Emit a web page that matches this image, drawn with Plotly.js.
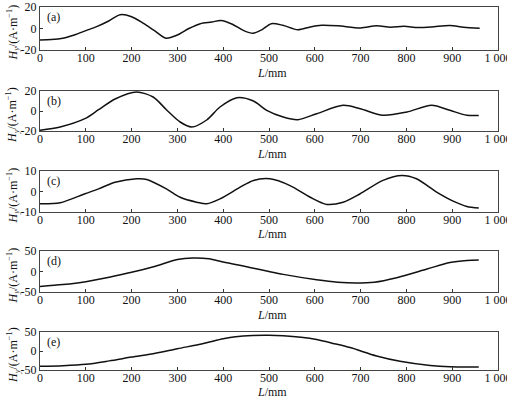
<!DOCTYPE html>
<html><head><meta charset="utf-8">
<script src="https://cdn.plot.ly/plotly-3.0.1.min.js"></script>
<style>html,body{margin:0;padding:0;background:#fff}#chart{width:507px;height:398px}</style>
</head><body><div id="chart"></div>
<script>
const xA = [0,25,50,75,100,125,150,175,200,225,250,275,300,325,350,375,395,420,445,465,485,505,530,563,590,615,650,700,735,765,795,825,855,895,925,960];
const yA = [-10.7,-10.3,-9,-6,-2,2,7,12.8,11,5,-2,-9,-6,0,4.5,6,7.5,4,-2,-4.5,-1,4.5,3,-1.2,1.5,3,2.5,0.5,2.5,1.2,2,1,1.5,2.8,1.2,0.3];
const xB = [0,44,98,128,164,211,247,276,306,331,364,393,430,466,495,531,563,604,662,699,749,801,855,895,932,958];
const yB = [-19.3,-16,-7.7,1.3,12,19,14,1.3,-11,-16,-9,4,13.3,10,0.7,-6,-8.7,-2.7,5.7,2.3,-4.3,-1,5.7,0.7,-4.3,-4.5];
const xC = [0,44,98,128,164,211,233,276,306,342,364,393,437,466,502,546,590,626,662,699,749,790,822,866,902,932,958];
const yC = [-6,-5.5,-1.1,1.3,4.5,6.2,5.9,1.3,-2.8,-5.2,-6,-3.6,2.1,5.4,6.2,2.9,-2.8,-6.3,-5.2,-1.1,5.4,7.8,6.2,-0.3,-4.7,-7.3,-8.1];
const xD = [0,50,100,151,200,252,300,333,369,400,458,500,531,604,650,690,730,779,845,895,932,958];
const yD = [-36.5,-32,-25,-14,-2,13,29,33,31,23,10,0,-7,-20,-26,-28,-26,-15,6,22,27,28];
const xE = [0,50,100,151,200,252,300,355,400,427,464,500,531,570,604,640,677,735,786,852,895,958];
const yE = [-40,-38.5,-35,-26,-16,-6,6,19,32,37.6,41,41.5,40,36,30,20,9,-13,-27,-38,-41.5,-42];
const xTicks = [0,100,200,300,400,500,600,700,800,900,1000];
const xTickText = ['0','100','200','300','400','500','600','700','800','900','1 000'];
const panelLabels = ['(a)','(b)','(c)','(d)','(e)'];
const yRanges = [[-20,20],[-20,20],[-10,10],[-50,50],[-50,50]];
const yTickVals = [[-20,0,20],[-20,0,20],[-10,0,10],[-50,0,50],[-50,0,50]];
const yTickText = [['-20','0','20'],['-20','0','20'],['-10','0','10'],['-50','0','50'],['-50','0','50']];

const W = 507, H = 398;
const panelPx = [[7,50],[91,131],[171,212],[251,292],[332,370]];
const xTitlePx = [73,154,234,315,392];
const series = [[xA,yA],[xB,yB],[xC,yC],[xD,yD],[xE,yE]];
const font = {family:'Liberation Serif, Times New Roman, serif', size:12, color:'#111'};

const data = [], annotations = [];
const layout = {width:W, height:H, margin:{l:0,r:0,t:0,b:0}, showlegend:false,
  paper_bgcolor:'#fff', plot_bgcolor:'#fff', font:font, annotations:annotations};

series.forEach((s,i)=>{
  const n = i===0 ? '' : String(i+1);
  data.push({x:s[0], y:s[1], xaxis:'x'+n, yaxis:'y'+n, mode:'lines', type:'scatter',
    line:{color:'#111', width:1.5, shape:'spline', smoothing:0.8}, hoverinfo:'skip'});
  const [top,bot] = panelPx[i];
  layout['xaxis'+n] = {domain:[40/W, 498/W], range:[0,1000], anchor:'y'+n,
    tickvals:xTicks, ticktext:xTickText, ticks:'inside', ticklen:3, tickcolor:'#333',
    ticklabeloverflow:'allow', automargin:false, ticklabelstandoff:-3,
    showline:true, mirror:true, linecolor:'#444', linewidth:1, showgrid:false, zeroline:false,
    tickfont:font, fixedrange:true};
  layout['yaxis'+n] = {domain:[1-bot/H, 1-top/H], range:yRanges[i], anchor:'x'+n,
    tickvals:yTickVals[i], ticktext:yTickText[i], ticks:'inside', ticklen:3, tickcolor:'#333',
    automargin:false,
    showline:true, mirror:true, linecolor:'#444', linewidth:1, showgrid:false, zeroline:false,
    tickfont:font, fixedrange:true};
  annotations.push({text:panelLabels[i], xref:'x'+n+' domain', yref:'y'+n+' domain', x:0.01, y:0.97,
    xanchor:'left', yanchor:'top', showarrow:false, font:font});
  annotations.push({text:'<i>H</i><sub><i>y</i></sub>/(A·m<sup>−1</sup>)', xref:'paper', yref:'paper',
    x:13/W, y:1-((top+bot)/2+4)/H, textangle:-90, showarrow:false, xanchor:'center', yanchor:'middle', font:font});
  annotations.push({text:'<i>L</i>/mm', xref:'paper', yref:'paper', x:272/W, y:1-xTitlePx[i]/H,
    showarrow:false, xanchor:'center', yanchor:'middle', font:font});
});

Plotly.newPlot('chart', data, layout, {staticPlot:true});
</script></body></html>
